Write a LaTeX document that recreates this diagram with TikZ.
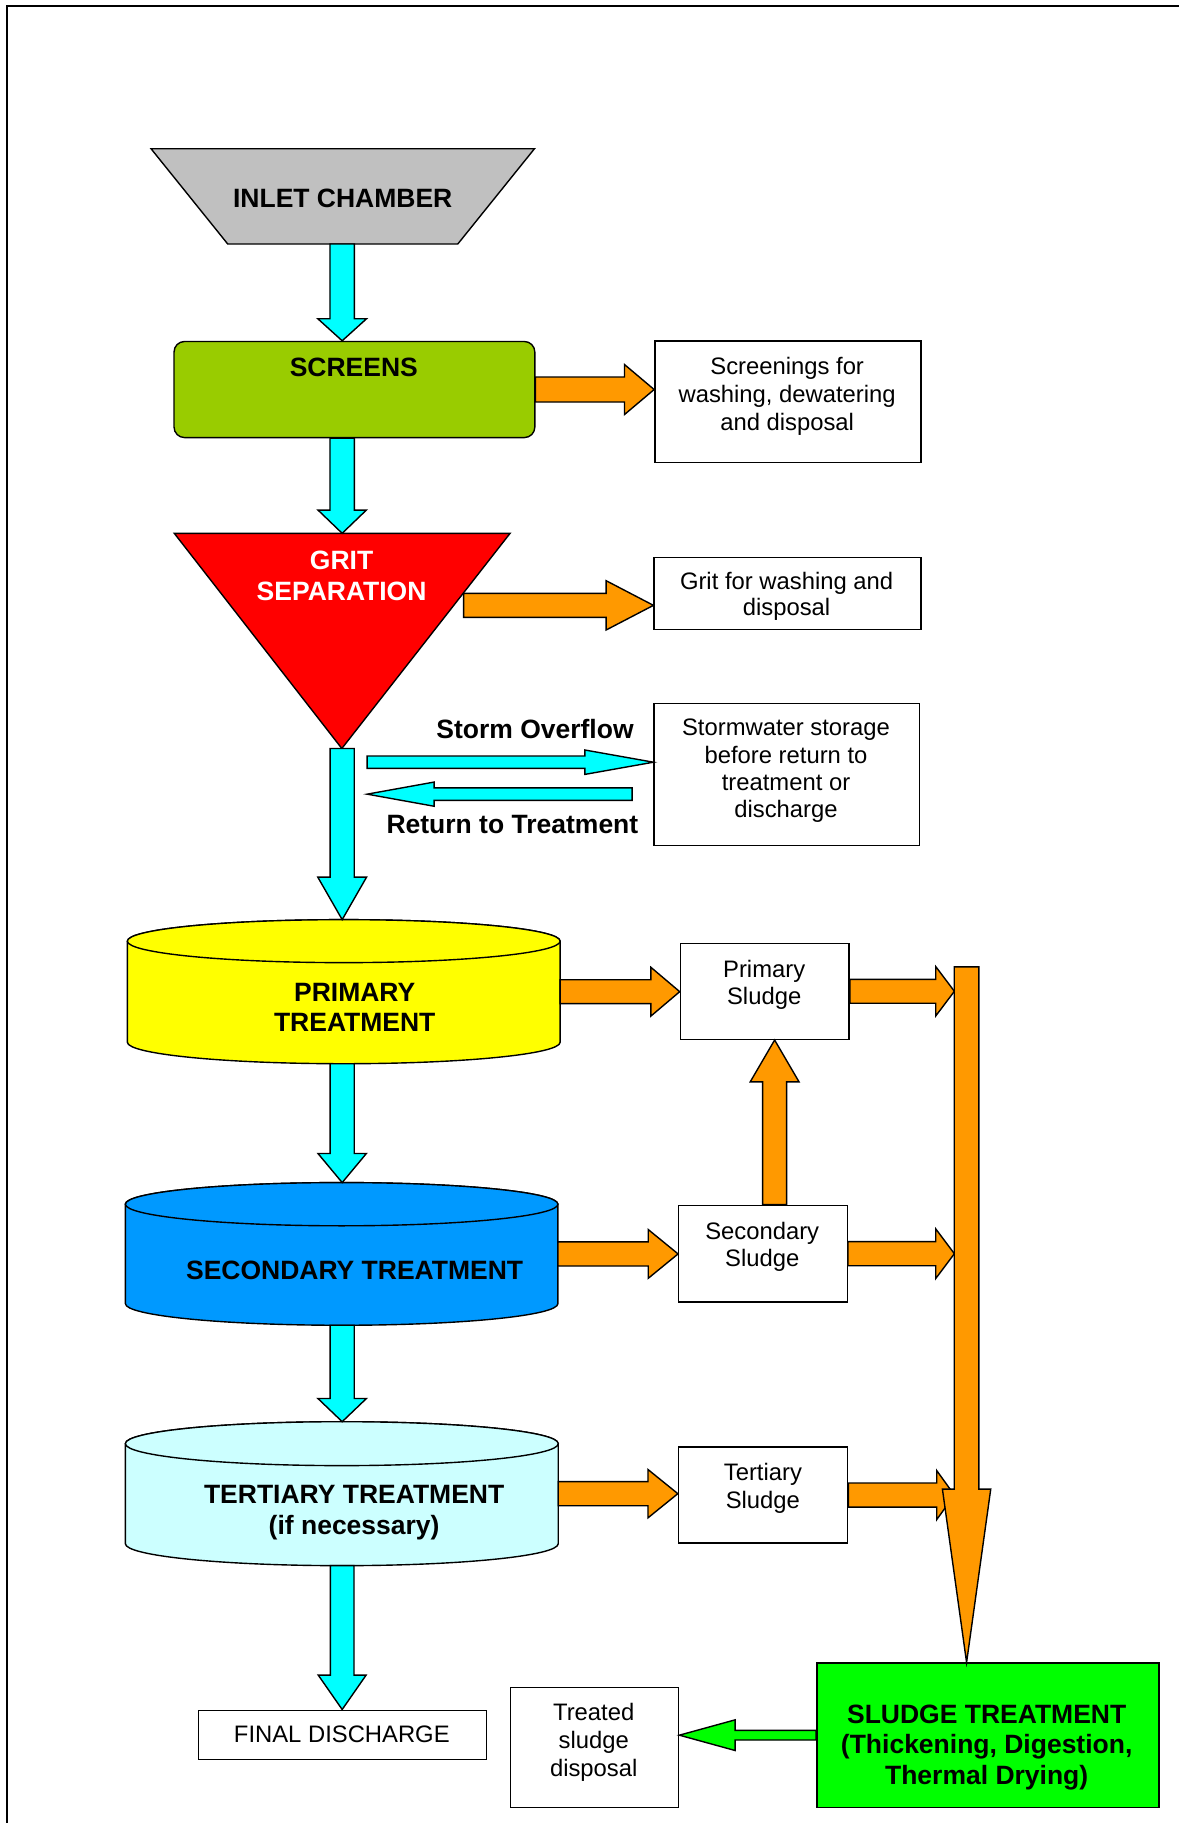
\documentclass[tikz,border=0pt]{standalone}
\usepackage{fontspec}
\setmainfont{Liberation Sans}
\usetikzlibrary{calc}
\definecolor{flowcyan}{HTML}{00FFFF}
\definecolor{sludgeorange}{HTML}{FF9900}
\definecolor{inletgrey}{HTML}{C0C0C0}
\definecolor{screengreen}{HTML}{99CC00}
\definecolor{gritred}{HTML}{FF0000}
\definecolor{primyellow}{HTML}{FFFF00}
\definecolor{secblue}{HTML}{0099FF}
\definecolor{tertcyan}{HTML}{CCFFFF}
\definecolor{sludgegreen}{HTML}{00FF00}

% #1 style, #2 from, #3 to, #4 half shaft width, #5 half head width, #6 head length
\newcommand{\blockarrow}[6]{%
  \path (#2) coordinate (baS) (#3) coordinate (baT);
  \path ($(baT)!#6!(baS)$) coordinate (baH);
  \draw[#1] ($(baS)!#4!90:(baT)$) -- ($(baH)!#4!-90:(baS)$) -- ($(baH)!#5!-90:(baS)$)
     -- (baT) -- ($(baH)!#5!90:(baS)$) -- ($(baH)!#4!90:(baS)$) -- ($(baS)!#4!-90:(baT)$) -- cycle;
}
% #1 name, #2 x left, #3 x right, #4 y top centre, #5 y bottom centre, #6 y radius, #7 colour
\newcommand{\tank}[7]{%
  \pgfmathsetmacro{\tkcx}{(#2+#3)/2}%
  \pgfmathsetmacro{\tkrx}{(#3-#2)/2}%
  \pgfmathsetmacro{\tkmid}{(#4+#5)/2}%
  \draw[lw, fill=#7] (#2,#4) -- (#2,#5)
     arc[start angle=180, end angle=360, x radius=\tkrx pt, y radius=#6pt]
     -- (#3,#4)
     arc[start angle=0, end angle=180, x radius=\tkrx pt, y radius=#6pt] -- cycle;
  \draw[lw, fill=#7] (\tkcx,#4) ellipse[x radius=\tkrx pt, y radius=#6pt];
  \coordinate (#1T) at (\tkcx,#4-#6);
  \coordinate (#1B) at (\tkcx,#5+#6);
  \coordinate (#1R) at (#3,\tkmid);
}

\begin{document}
\begin{tikzpicture}[x=1pt,y=-1pt,
  lw/.style={line width=1.2pt},
  box/.style={draw, lw, fill=white, inner sep=0pt, anchor=north west},
  lbl/.style={font=\fontsize{20.5}{23.8}\selectfont, align=center, inner sep=0pt},
  blbl/.style={font=\fontsize{22.8}{26.5}\selectfont\bfseries, align=center, inner sep=0pt},
  cyanarrow/.style={draw, lw, fill=flowcyan, line join=miter},
  orangearrow/.style={draw, lw, fill=sludgeorange, line join=miter},
  greenarrow/.style={draw, lw, fill=sludgegreen, line join=miter}]
\useasboundingbox (0,0) rectangle (1015,1569);
\draw[lw] (6,1569) -- (6,5) -- (1015,5);

% ---------- inlet chamber
\draw[lw, fill=inletgrey, line join=miter] (130,128) -- (460,128) -- (394,210) -- (196,210) -- cycle;
\node[blbl] (inlet) at (295,171) {INLET CHAMBER};
\coordinate (inletB) at (294.5,210);

% ---------- screens
\node[box, fill=screengreen, rounded corners=9pt, minimum width=310.5pt, minimum height=82.7pt] (scr) at (149.2,293.3) {};
\node[blbl] (scrlbl) at (304.5,316) {SCREENS};
\node[box, minimum width=229pt, minimum height=104.6pt] (scrbox) at (563,293) {};
\node[lbl] (scrtxt) at (677.5,341) {Screenings for\\washing, dewatering\\and disposal};

% ---------- grit separation
\draw[lw, fill=gritred, line join=miter] (150,459) coordinate (gritTL) -- (439,459) coordinate (gritTR)
   -- (294.2,644.2) coordinate (gritB) -- cycle;
\node[blbl, text=white] (gritlbl) at (294,495.3) {GRIT\\SEPARATION};
\coordinate (gritR) at (399,521);
\node[box, minimum width=229.6pt, minimum height=61.7pt] (gritbox) at (562.4,479.4) {};
\node[lbl, font=\fontsize{20.5}{22.3}\selectfont] (grittxt) at (677,513.5) {Grit for washing and\\disposal};

% ---------- storm water
\node[box, minimum width=228.2pt, minimum height=122.3pt] (stormbox) at (562.4,604.8) {};
\node[lbl, font=\fontsize{20.5}{23.4}\selectfont] (stormtxt) at (676.5,663.5) {Stormwater storage\\before return to\\treatment or\\discharge};
\coordinate (stormS) at (316,656);
\coordinate (retS) at (544,683.5);
\node[blbl] (stormlbl) at (460.5,627.3) {Storm Overflow};
\node[blbl] (retlbl) at (441,709.4) {Return to Treatment};

% ---------- tanks
\tank{prim}{109.6}{482.1}{810}{897}{18.5}{primyellow}
\node[blbl] (primlbl) at (305.3,867) {PRIMARY\\TREATMENT};
\tank{sec}{107.9}{480.2}{1036.4}{1122}{18.6}{secblue}
\node[blbl] (seclbl) at (305.2,1093.3) {SECONDARY TREATMENT};
\tank{ter}{107.9}{480.5}{1242.5}{1328.6}{18.9}{tertcyan}
\node[blbl] (terlbl) at (304.8,1302) {TERTIARY TREATMENT\\(if necessary)};

% ---------- sludge boxes
\node[box, minimum width=145.2pt, minimum height=82.7pt] (psbox) at (585,811.2) {};
\node[lbl] (pstxt) at (657.7,847.7) {Primary\\Sludge};
\node[box, minimum width=145pt, minimum height=83.2pt] (ssbox) at (583.6,1036.8) {};
\node[lbl] (sstxt) at (656,1073) {Secondary\\Sludge};
\node[box, minimum width=145.5pt, minimum height=82.7pt] (tsbox) at (583.4,1244.8) {};
\node[lbl] (tstxt) at (656.6,1281) {Tertiary\\Sludge};

% ---------- bottom row
\node[box, minimum width=248.1pt, minimum height=42.4pt] (final) at (170.1,1471.3) {};
\node[lbl] (finaltxt) at (294.2,1492.8) {FINAL DISCHARGE};
\node[box, minimum width=144.9pt, minimum height=103.3pt] (treated) at (438.6,1451.5) {};
\node[lbl, font=\fontsize{20.5}{24}\selectfont] (treatedtxt) at (511,1499.4) {Treated\\sludge\\disposal};
\node[box, fill=sludgegreen, minimum width=294.5pt, minimum height=124pt] (sludge) at (702.4,1430.8) {};
\node[blbl, font=\fontsize{22.8}{26.6}\selectfont\bfseries] (sludgetxt) at (849.2,1504) {SLUDGE TREATMENT\\(Thickening, Digestion,\\Thermal Drying)};

% ---------- main flow (cyan)
\blockarrow{cyanarrow}{inletB}{inletB |- scr.north}{10.5pt}{21pt}{19pt}
\blockarrow{cyanarrow}{inletB |- scr.south}{inletB |- gritTL}{10.5pt}{20.8pt}{20pt}
\blockarrow{cyanarrow}{inletB |- gritB}{inletB |- primT}{10.4pt}{21pt}{36.6pt}
\blockarrow{cyanarrow}{inletB |- primB}{inletB |- secT}{10.4pt}{20.8pt}{25pt}
\blockarrow{cyanarrow}{inletB |- secB}{inletB |- terT}{10.4pt}{20.9pt}{20pt}
\blockarrow{cyanarrow}{inletB |- terB}{inletB |- final.north}{10.2pt}{20.6pt}{29.6pt}
\blockarrow{cyanarrow}{stormS}{stormS -| stormbox.west}{5.3pt}{10.5pt}{59pt}
\blockarrow{cyanarrow}{retS}{retS -| stormS}{5.4pt}{10.4pt}{57.6pt}

% ---------- screenings and grit (orange)
\blockarrow{orangearrow}{scr.east}{scr.east -| scrbox.west}{10.75pt}{21.5pt}{25.5pt}
\blockarrow{orangearrow}{gritR}{gritR -| gritbox.west}{10.3pt}{21.2pt}{40.7pt}

% ---------- sludge flows (orange)
\coordinate (barT) at (831.9,832.2);
\coordinate (barL) at (821.4,832.2);
\coordinate (ssup) at ($(ssbox.north)+(10,0)$);
\blockarrow{orangearrow}{primR}{primR -| psbox.west}{10.3pt}{21pt}{24.8pt}
\blockarrow{orangearrow}{secR}{secR -| ssbox.west}{10.4pt}{21pt}{25.7pt}
\blockarrow{orangearrow}{terR}{terR -| tsbox.west}{10.35pt}{20.8pt}{25.7pt}
\blockarrow{orangearrow}{ssup}{ssup |- psbox.south}{10.35pt}{21pt}{36pt}
\blockarrow{orangearrow}{psbox.east}{psbox.east -| barL}{10.3pt}{21.2pt}{16pt}
\blockarrow{orangearrow}{ssbox.east}{ssbox.east -| barL}{10.4pt}{21.3pt}{16pt}
\blockarrow{orangearrow}{tsbox.east}{tsbox.east -| barL}{10.35pt}{21.1pt}{15.2pt}
\blockarrow{orangearrow}{barT}{barT |- sludge.north}{10.6pt}{20.8pt}{149.2pt}

% ---------- treated sludge (green)
\blockarrow{greenarrow}{sludge.west}{sludge.west -| treated.east}{4.15pt}{13.2pt}{48pt}
\end{tikzpicture}
\end{document}
